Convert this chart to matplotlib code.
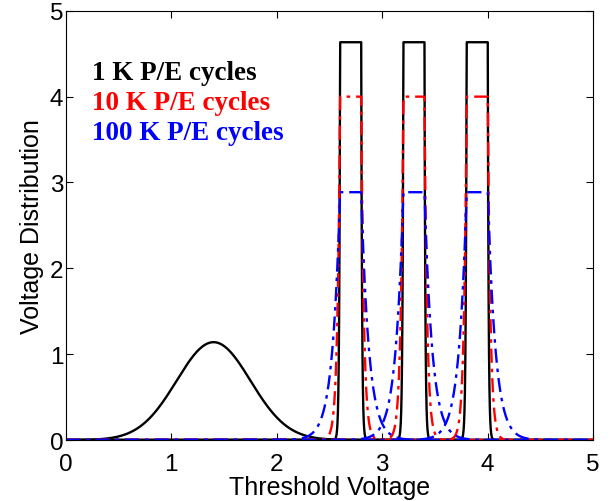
import numpy as np
import matplotlib
matplotlib.use("Agg")
import matplotlib.pyplot as plt

# erased state (Gaussian)
erase_mean = 1.4
erase_sigma = 0.35

# programmed states: flat region [lo, lo + width] with Laplacian tails
state_lo = [2.6, 3.2, 3.8]
state_width = 0.2

cycle_labels = ["1 K P/E cycles", "10 K P/E cycles", "100 K P/E cycles"]
tail_lambda = [0.0079, 0.025, 0.0732]   # tail decay per P/E count
colors = ["black", "red", "blue"]
styles = ["-", (0, (6, 2.5, 1.5, 2.5)), (0, (6, 2.5, 1.5, 2.5))]

x = np.linspace(0, 5, 5001)


def state_pdf(x, lo, width, lam):
    hi = lo + width
    h = 1.0 / (width + 2 * lam)
    y = np.full_like(x, h)
    y[x < lo] = h * np.exp(-(lo - x[x < lo]) / lam)
    y[x > hi] = h * np.exp(-(x[x > hi] - hi) / lam)
    return y


plt.rcParams['font.family'] = ['Liberation Sans', 'DejaVu Sans']
fig = plt.figure(figsize=(6.16, 5.02), dpi=100)
ax = fig.add_axes([0.107, 0.1215, 0.856, 0.855])

for i in range(3):
    if i == 0:
        erased = np.exp(-(x - erase_mean) ** 2 / (2 * erase_sigma ** 2)) / (erase_sigma * np.sqrt(2 * np.pi))
        ax.plot(x, erased, color=colors[i], linestyle=styles[i], lw=1.7)
    for lo in state_lo:
        ax.plot(x, state_pdf(x, lo, state_width, tail_lambda[i]),
                color=colors[i], linestyle=styles[i], lw=1.7)

# text legend
for i in range(3):
    ax.text(0.25, 4.28 - 0.35 * i, cycle_labels[i], color=colors[i],
            fontsize=19.5, fontweight='bold', family='Liberation Serif',
            va='center', ha='left')

ax.set_xlim(0, 5)
ax.set_ylim(0, 5)
ax.set_xticks(range(6))
ax.set_yticks(range(6))
ax.tick_params(direction='in', top=True, right=True, labelsize=17.5, length=5)
ax.tick_params(axis='x', pad=9)
ax.tick_params(axis='y', pad=2)
ax.set_xlabel("Threshold Voltage", fontsize=18, labelpad=0)
ax.set_ylabel("Voltage Distribution", fontsize=18, labelpad=4)

fig.savefig("out.png", dpi=100)
